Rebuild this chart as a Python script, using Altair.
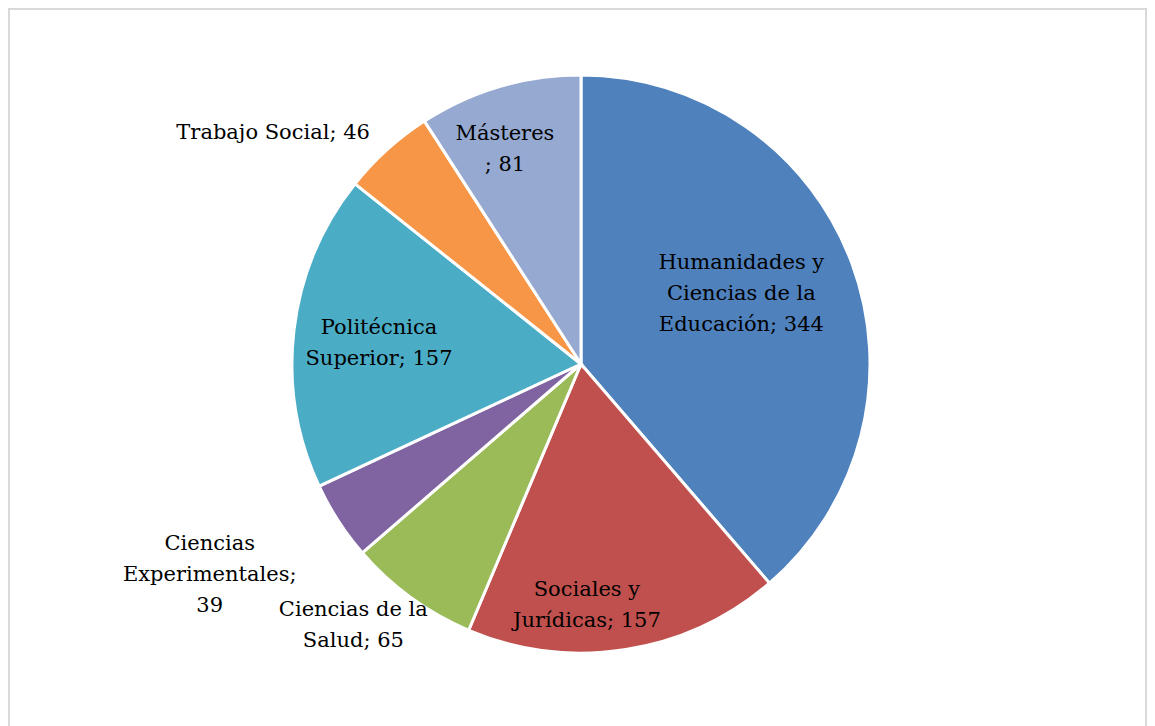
import altair as alt
import pandas as pd
import numpy as np

categories = ["Humanidades y Ciencias de la Educación", "Sociales y Jurídicas",
              "Ciencias de la Salud", "Ciencias Experimentales",
              "Politécnica Superior", "Trabajo Social", "Másteres"]
values = [344, 157, 65, 39, 157, 46, 81]
label_texts = ["Humanidades y\nCiencias de la\nEducación; 344",
               "Sociales y\nJurídicas; 157",
               "Ciencias de la\nSalud; 65",
               "Ciencias\nExperimentales;\n39",
               "Politécnica\nSuperior; 157",
               "Trabajo Social; 46",
               "Másteres\n; 81"]
colors = ["#4F81BD", "#C0504D", "#9BBB59", "#8064A2", "#4BACC6", "#F79646", "#95A9D1"]

# label block placement (angle in degrees clockwise from top, distance from centre in px)
label_angle = [66.4, 178.6, 221.0, 240.4, 275.7, 306.9, 340.5]
label_radius = [175, 242, 347, 427, 203, 385, 228]
LINE_H = 31

total = sum(values)
# convert block centre to first-line anchor (Vega anchors multi-line text at first line)
ang = np.radians(label_angle)
bx = np.array(label_radius) * np.sin(ang)
by = -np.array(label_radius) * np.cos(ang)
nlines = np.array([t.count("\n") + 1 for t in label_texts])
fy = by - (nlines - 1) * LINE_H / 2
fr = np.hypot(bx, fy)
fa = np.degrees(np.arctan2(bx, -fy)) % 360

df = pd.DataFrame({
    "cat": categories,
    "value": values,
    "order": list(range(len(values))),
    "label": label_texts,
    "lab_theta": fa / 360 * total,
    "lab_r": fr,
})

color_scale = alt.Scale(domain=categories, range=colors)
cx, cy = 573, 356

arcs = alt.Chart(df).mark_arc(outerRadius=289, stroke="white", strokeWidth=3).encode(
    theta=alt.Theta("value:Q", stack=True, scale=alt.Scale(domain=[0, total])),
    color=alt.Color("cat:N", scale=color_scale, legend=None),
    order=alt.Order("order:Q"),
    x=alt.value(cx), y=alt.value(cy),
)

labels = alt.Chart(df).mark_text(
    font="DejaVu Serif", fontSize=21, lineHeight=LINE_H, lineBreak="\n",
    align="center", baseline="middle", color="#000000"
).encode(
    theta=alt.Theta("lab_theta:Q", stack=False, scale=alt.Scale(domain=[0, total])),
    radius=alt.Radius("lab_r:Q", scale=None),
    text="label:N",
    x=alt.value(cx), y=alt.value(cy),
)

border = alt.Chart(df).mark_rect(fill=None, stroke="#D9D9D9", strokeWidth=2).encode(
    x=alt.value(1), x2=alt.value(1138), y=alt.value(1), y2=alt.value(730),
)

chart = alt.layer(border, arcs, labels).properties(
    width=1139, height=710, padding=0
).configure_view(stroke=None)

chart.save("out.html", embed_options={"renderer": "svg", "actions": False})
